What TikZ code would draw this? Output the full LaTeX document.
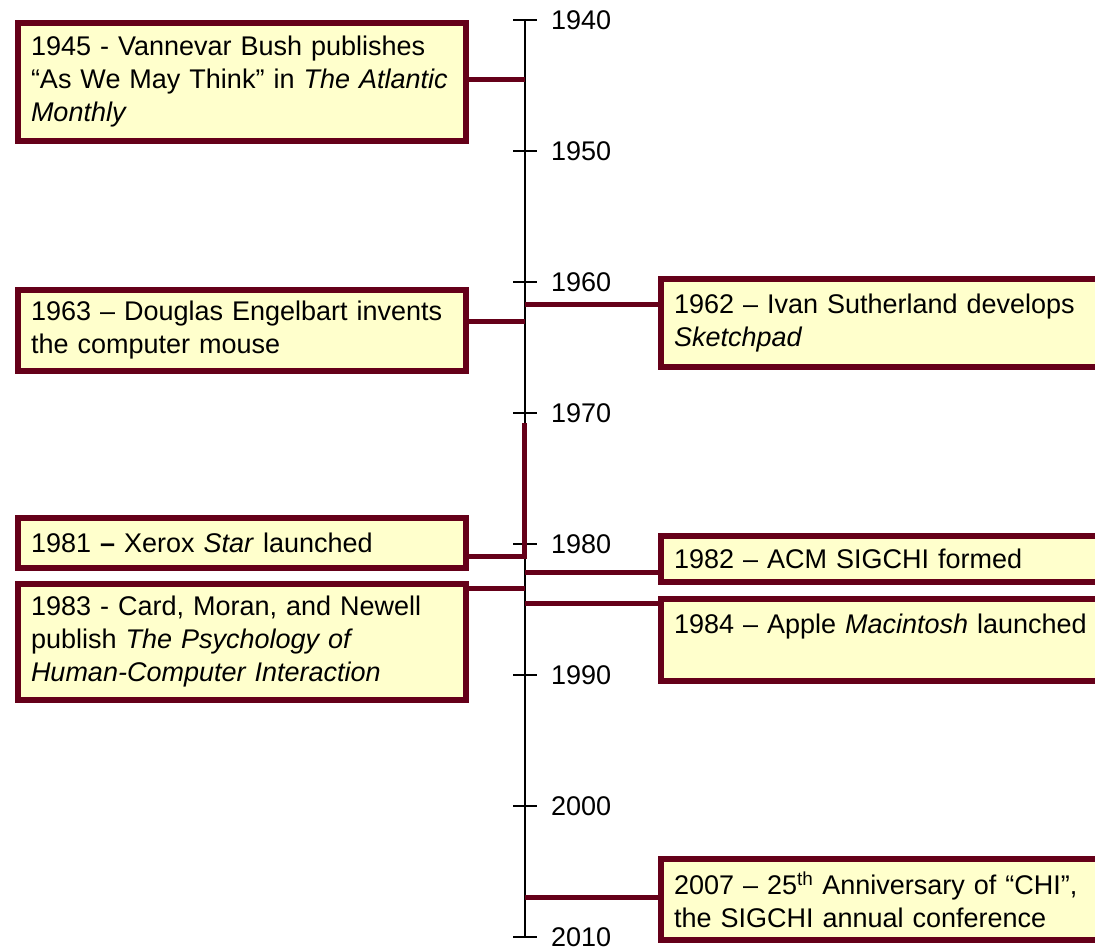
\documentclass[tikz,border=0pt]{standalone}
\usepackage{fontspec}
\setmainfont{Liberation Sans}
\usetikzlibrary{positioning,calc}
\definecolor{cEvt}{HTML}{650019}
\definecolor{cEvtBg}{HTML}{FFFFCC}
\hyphenpenalty=10000
\tikzset{
  evt/.style={draw=cEvt, line width=6pt, fill=cEvtBg, anchor=north west, align=left,
    text width=422pt, inner xsep=13pt, inner ysep=0pt,
    font=\fontsize{27}{33}\selectfont},
  link/.style={draw=cEvt, line width=5pt},
  life/.style={draw=black, line width=1.3pt},
  yr/.style={anchor=west, inner sep=0pt, font=\fontsize{27}{33}\selectfont},
}

\begin{document}
\begin{tikzpicture}[x=1pt, y=-1pt]
  \clip (0,0) rectangle (1095,947);
  % --- time axis ---
  \coordinate (top) at (525,20);
  \coordinate (bot) at (525,937);
  \draw[life] (top) -- (bot);
  \foreach \yr [count=\i from 0] in {1940,1950,...,2010} {
    \coordinate (t\yr) at (525,20+131*\i);
    \draw[life] ($(t\yr)+(-12,0)$) -- ($(t\yr)+(12,0)$);
    \node[yr] (l\yr) at ($(t\yr)+(26,0)$) {\yr};
  }
  % --- events, left side ---
  \node[evt, minimum height=118pt] (e1945) at (15,20)
    {1945 - Vannevar Bush publishes\\``As We May Think'' in \textit{The Atlantic}\\\textit{Monthly}};
  \node[evt, minimum height=81pt] (e1963) at (15,287)
    {1963 -- Douglas Engelbart invents\\the computer mouse};
  \node[evt, minimum height=50pt] (e1981) at (15,515)
    {1981 \textbf{--} Xerox \textit{Star} launched};
  \node[evt, minimum height=116pt] (e1983) at (15,581)
    {1983 - Card, Moran, and Newell\\publish \textit{The Psychology of}\\\textit{Human-Computer Interaction}};
  % --- events, right side ---
  \node[evt, minimum height=88pt] (e1962) at (658,276)
    {1962 -- Ivan Sutherland develops\\\textit{Sketchpad}};
  \node[evt, minimum height=46pt] (e1982) at (658,533)
    {1982 -- ACM SIGCHI formed};
  \node[evt, minimum height=82pt] (e1984) at (658,596)
    {1984 -- Apple \textit{Macintosh} launched\\\mbox{}};
  \node[evt, minimum height=81pt] (e2007) at (658,856)
    {2007 -- 25\textsuperscript{th} Anniversary of ``CHI'',\\the SIGCHI annual conference};
  % --- links to the axis ---
  \coordinate (a1945) at (525,80);
  \coordinate (a1963) at (525,321);
  \coordinate (a1962) at (525,304);
  \coordinate (a1981) at (524,556);
  \coordinate (s1981) at (524,423);
  \coordinate (a1983) at (525,588);
  \coordinate (a1982) at (525,572);
  \coordinate (a1984) at (525,603);
  \coordinate (a2007) at (525,897);
  \draw[link] (e1945.east |- a1945) -- (a1945);
  \draw[link] (e1963.east |- a1963) -- (a1963);
  \draw[link] (e1981.east |- a1981) -- (a1981) -- (s1981);
  \draw[link] (e1983.east |- a1983) -- (a1983);
  \draw[link] (a1962) -- (e1962.west |- a1962);
  \draw[link] (a1982) -- (e1982.west |- a1982);
  \draw[link] (a1984) -- (e1984.west |- a1984);
  \draw[link] (a2007) -- (e2007.west |- a2007);
\end{tikzpicture}
\end{document}
